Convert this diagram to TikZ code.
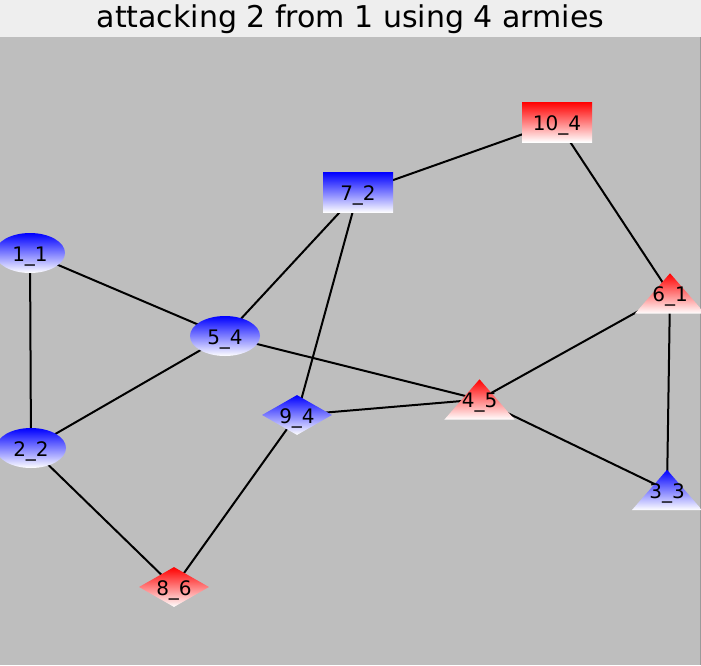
\documentclass[tikz,border=0pt]{standalone}
\usepackage{fontspec}
\setmainfont{DejaVu Sans}
\usetikzlibrary{shapes.geometric,backgrounds}
\definecolor{bgc}{HTML}{BEBEBE}
\definecolor{barc}{HTML}{EEEEEE}
\definecolor{rimc}{HTML}{9A9A9A}
\begin{document}
\begin{tikzpicture}[x=1pt,y=-1pt,
  base/.style={inner sep=0pt, minimum width=70pt, minimum height=40pt,
    font=\fontsize{20}{20}\selectfont, text height=16pt, text depth=-5.6pt},
  ell/.style={base, ellipse},
  boxnode/.style={base, rectangle},
  dia/.style={base, diamond, aspect=1.75},
  tri/.style={base, rectangle, text depth=-6.6pt},
  bnode/.style={top color=blue, bottom color=white},
  rnode/.style={top color=red, bottom color=white},
  titlenode/.style={anchor=base, font=\fontsize{30}{30}\selectfont},
  edge/.style={line width=2pt, black}
]
\useasboundingbox (0,0) rectangle (701,665);

\node[titlenode] (title) at (350.5,27.3) {attacking 2 from 1 using 4 armies};

\node[ell, bnode] (n11) at (30,253) {1\_1};
\node[ell, bnode] (n22) at (31,448) {2\_2};
\node[ell, bnode] (n54) at (225,336) {5\_4};
\node[boxnode, bnode] (n72) at (358,192.5) {7\_2};
\node[boxnode, rnode] (n104) at (557,122) {10\_4};
\node[dia, bnode] (n94) at (297,415) {9\_4};
\node[dia, rnode] (n86) at (174,587) {8\_6};
\node[tri] (n61) at (670,293.5) {6\_1};
\node[tri] (n45) at (479.5,399.5) {4\_5};
\node[tri] (n33) at (667,490) {3\_3};

\begin{pgfonlayer}{background}
  \fill[bgc] (0,0) rectangle (701,665);
  \fill[barc] (0,0) rectangle (701,37);
  \draw[rimc, line width=1pt] (700,37) -- (700,665);
  \draw[edge] (n11.center) -- (n54.center);
  \draw[edge] (n11.center) -- (n22.center);
  \draw[edge] (n22.center) -- (n54.center);
  \draw[edge] (n22.center) -- (n86.center);
  \draw[edge] (n54.center) -- (n72.center);
  \draw[edge] (n54.center) -- (n45.center);
  \draw[edge] (n72.center) -- (n104.center);
  \draw[edge] (n72.center) -- (n94.center);
  \draw[edge] (n94.center) -- (n45.center);
  \draw[edge] (n94.center) -- (n86.center);
  \draw[edge] (n104.center) -- (n61.center);
  \draw[edge] (n61.center) -- (n45.center);
  \draw[edge] (n61.center) -- (n33.center);
  \draw[edge] (n45.center) -- (n33.center);
  \shade[rnode] (n61.south west) -- (n61.south east) -- (n61.north) -- cycle;
  \shade[rnode] (n45.south west) -- (n45.south east) -- (n45.north) -- cycle;
  \shade[bnode] (n33.south west) -- (n33.south east) -- (n33.north) -- cycle;
\end{pgfonlayer}
\end{tikzpicture}
\end{document}
